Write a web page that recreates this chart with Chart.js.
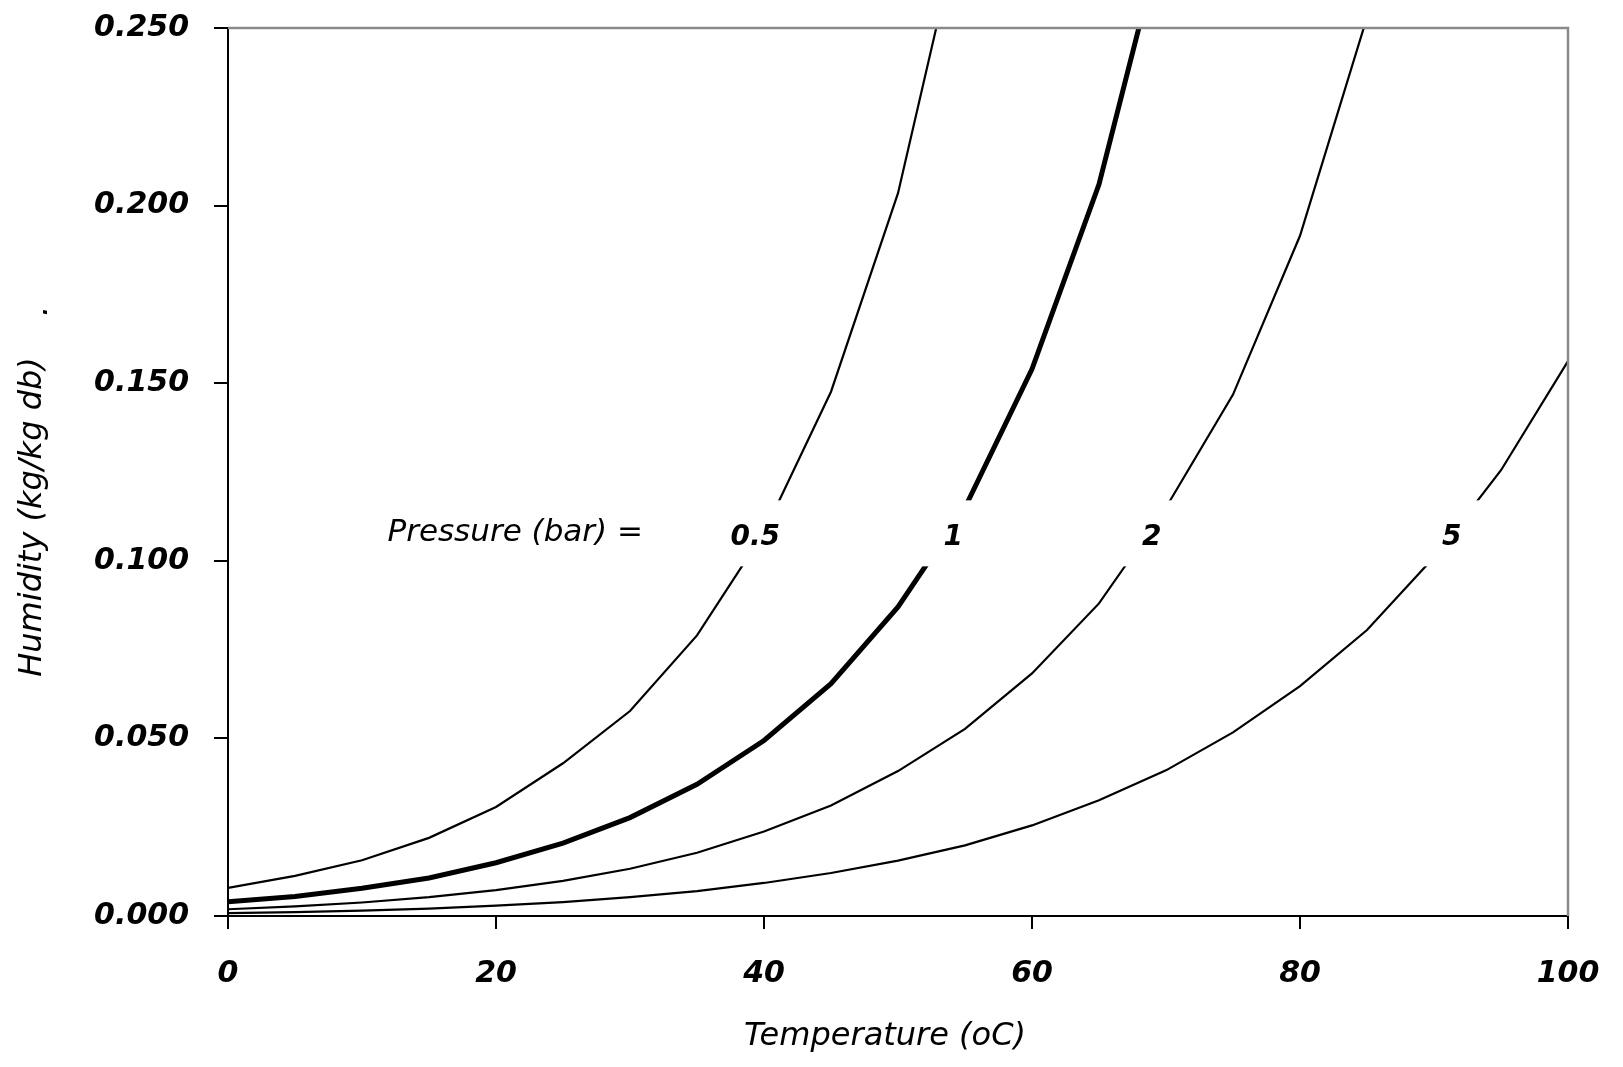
<!DOCTYPE html>
<html>
<head>
<meta charset="utf-8">
<script src="https://cdn.jsdelivr.net/npm/chart.js@4"></script>
<style>
  html, body { margin: 0; padding: 0; background: #fff; }
  #wrap { width: 1623px; height: 1067px; }
</style>
</head>
<body>
<div id="wrap"><canvas id="chart" width="1623" height="1067"></canvas></div>
<script>
// temperature (oC) and humidity (kg/kg db)
const temps = [0, 5, 10, 15, 20, 25, 30, 35, 40, 45, 50, 55, 60, 65, 70, 75, 80, 85, 90, 95, 100];
const hum05 = [0.0079, 0.0113, 0.0157, 0.0220, 0.0307, 0.0430, 0.0577, 0.0790, 0.1080, 0.1476, 0.2035, 0.2850];
const hum1 = [0.0040, 0.0055, 0.0078, 0.0107, 0.0150, 0.0205, 0.0277, 0.0371, 0.0494, 0.0654, 0.0870, 0.1150, 0.1540, 0.2060, 0.2800];
const hum2 = [0.0019, 0.0027, 0.0038, 0.0053, 0.0073, 0.0099, 0.0133, 0.0178, 0.0238, 0.0311, 0.0408, 0.0527, 0.0683, 0.0880, 0.1150, 0.1468, 0.1915, 0.2530];
const hum5 = [0.0008, 0.0011, 0.0015, 0.0021, 0.0029, 0.0039, 0.0053, 0.0070, 0.0093, 0.0121, 0.0156, 0.0199, 0.0255, 0.0326, 0.0410, 0.0517, 0.0647, 0.0805, 0.1010, 0.1255, 0.1562];

const pressureLabels = ["0.5", "1", "2", "5"];
const labelTemps = [37.5, 53.4, 68.2, 90.6];
const labelHum = 0.1066;
const captionText = "Pressure (bar) =";
const captionTemp = 11.9;

const xTitle = "Temperature (oC)";
const yTitle = "Humidity (kg/kg db)";

const xMin = 0, xMax = 100, xStep = 20;
const yMin = 0, yMax = 0.25, yStep = 0.05;

function toPoints(vals) {
  return vals.map((v, i) => ({ x: temps[i], y: v }));
}

const tickFont = { family: "DejaVu Sans", size: 30, style: "italic", weight: "bold" };
const labelFont = "italic bold 28px 'DejaVu Sans'";
const textFont = "italic 31px 'DejaVu Sans'";
const titleFont = "italic 32px 'DejaVu Sans'";

const labelPlugin = {
  id: "labelPlugin",
  afterDatasetsDraw(c) {
    const { ctx, scales } = c;
    const x = scales.x, y = scales.y;
    ctx.save();
    ctx.textBaseline = "middle";
    ctx.textAlign = "left";

    const cy = y.getPixelForValue(labelHum);
    ctx.fillStyle = "#000";
    ctx.font = textFont;
    ctx.fillText(captionText, x.getPixelForValue(captionTemp), cy - 4);

    ctx.font = labelFont;
    pressureLabels.forEach((lab, i) => {
      const lx = x.getPixelForValue(labelTemps[i]);
      const tw = ctx.measureText(lab).width;
      ctx.fillStyle = "#fff";
      ctx.fillRect(lx - 30, cy - 37, tw + 60, 66);
      ctx.fillStyle = "#000";
      ctx.fillText(lab, lx, cy);
    });
    ctx.restore();
  },
  afterDraw(c) {
    const { ctx, chartArea } = c;
    const { left, right, top, bottom } = chartArea;
    ctx.save();
    // grey frame on top and right
    ctx.strokeStyle = "#8a8a8a";
    ctx.lineWidth = 2.5;
    ctx.beginPath();
    ctx.moveTo(left, top);
    ctx.lineTo(right, top);
    ctx.lineTo(right, bottom);
    ctx.stroke();

    // axis titles
    ctx.fillStyle = "#000";
    ctx.font = titleFont;
    ctx.textAlign = "center";
    ctx.textBaseline = "middle";
    ctx.fillText(xTitle, 885, 1037);

    ctx.translate(33, 517);
    ctx.rotate(-Math.PI / 2);
    ctx.fillText(yTitle, 0, 0);
    ctx.fillText(".", 206, 6);
    ctx.restore();
  }
};

new Chart(document.getElementById("chart"), {
  type: "line",
  data: {
    datasets: [
      { label: "0.5", data: toPoints(hum05), borderColor: "#000", borderWidth: 2.2 },
      { label: "1", data: toPoints(hum1), borderColor: "#000", borderWidth: 5 },
      { label: "2", data: toPoints(hum2), borderColor: "#000", borderWidth: 2.2 },
      { label: "5", data: toPoints(hum5), borderColor: "#000", borderWidth: 2.2 }
    ]
  },
  options: {
    responsive: false,
    animation: false,
    layout: { padding: { top: 28, right: 55, left: 0, bottom: 0 } },
    elements: {
      point: { radius: 0 },
      line: { tension: 0, fill: false }
    },
    datasets: { line: { clip: 0 } },
    plugins: {
      legend: { display: false },
      tooltip: { enabled: false }
    },
    scales: {
      x: {
        type: "linear",
        min: xMin,
        max: xMax,
        afterFit(s) {
          s.height = 151;
          s.paddingLeft = 0;
          s.paddingRight = 0;
        },
        ticks: {
          stepSize: xStep,
          color: "#000",
          font: tickFont,
          padding: 27,
          maxRotation: 0
        },
        grid: { drawOnChartArea: false, drawTicks: true, tickLength: 13, color: "#000", lineWidth: 2 },
        border: { display: true, color: "#000", width: 2 }
      },
      y: {
        type: "linear",
        min: yMin,
        max: yMax,
        afterFit(s) {
          s.width = 228;
          s.paddingTop = 0;
          s.paddingBottom = 0;
        },
        ticks: {
          stepSize: yStep,
          color: "#000",
          font: tickFont,
          padding: 25,
          callback: (v) => Number(v).toFixed(3)
        },
        grid: { drawOnChartArea: false, drawTicks: true, tickLength: 14, color: "#000", lineWidth: 2 },
        border: { display: true, color: "#000", width: 2 }
      }
    }
  },
  plugins: [labelPlugin]
});
</script>
</body>
</html>
